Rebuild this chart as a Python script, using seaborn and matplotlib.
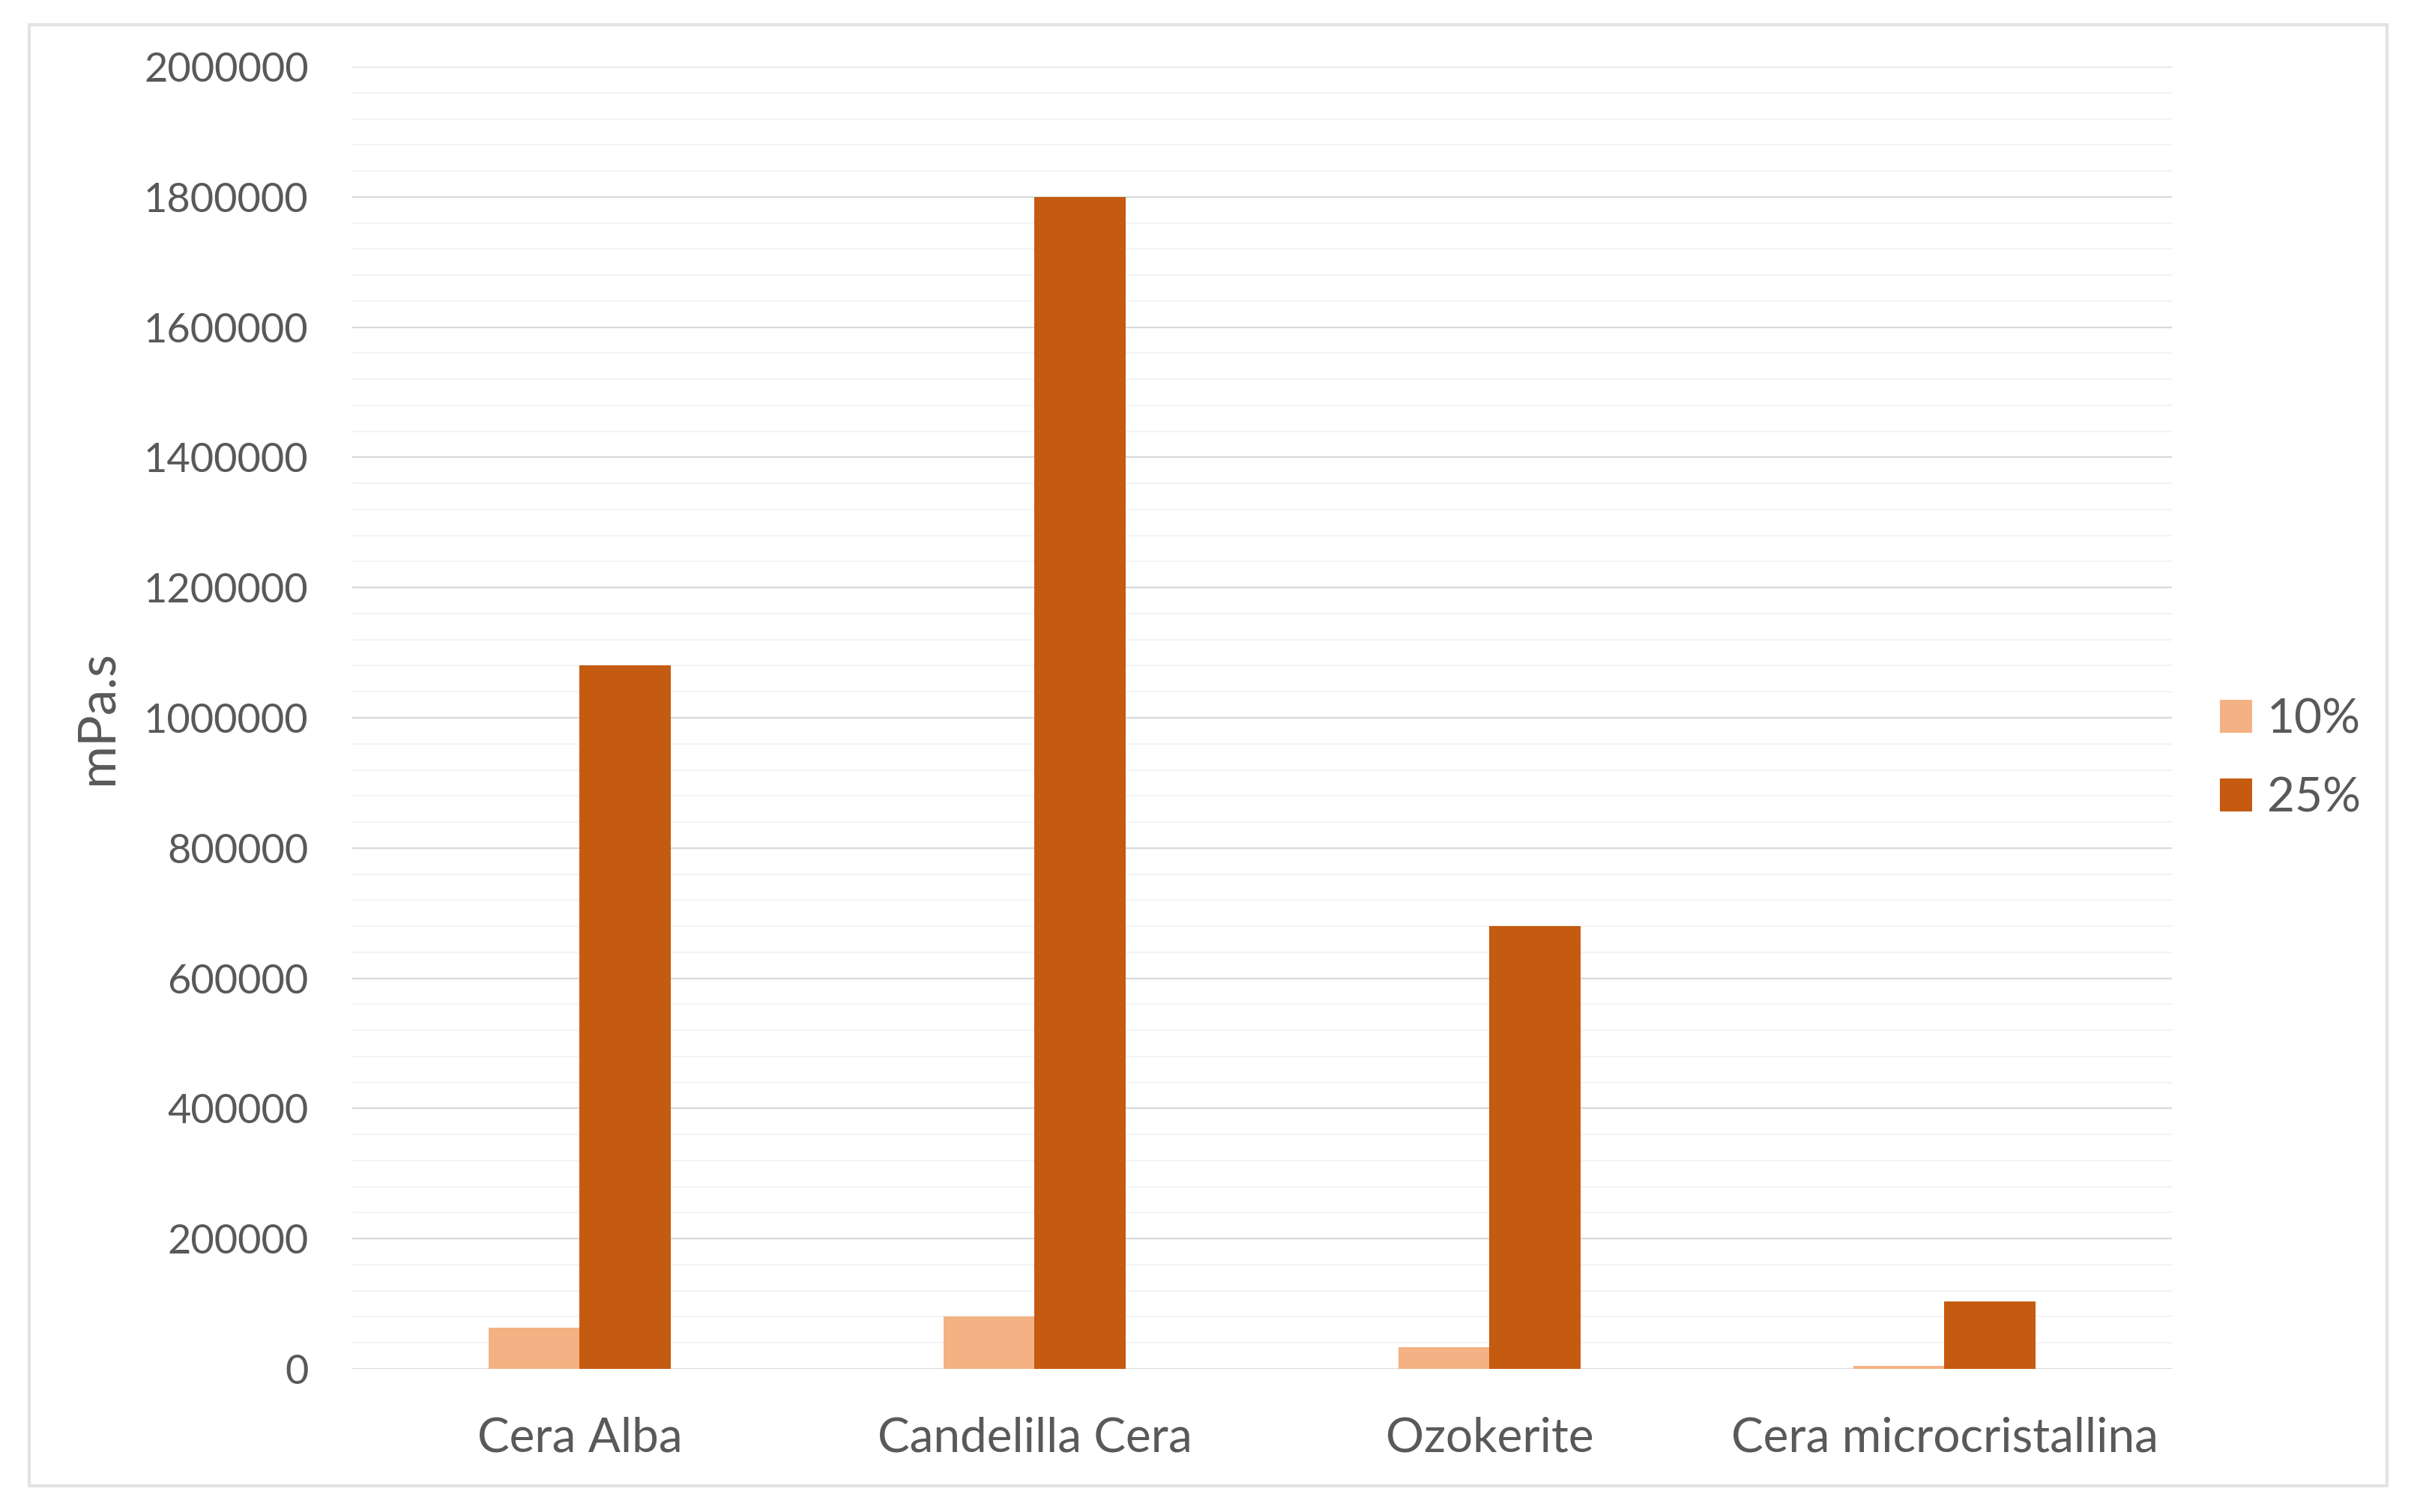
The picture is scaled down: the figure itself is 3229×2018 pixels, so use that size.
import pandas as pd
import seaborn as sns
import matplotlib.pyplot as plt
from matplotlib.patches import Rectangle
from matplotlib.ticker import MultipleLocator

# viscosity (mPa.s) of waxes at two concentrations
waxes = ['Cera Alba', 'Candelilla Cera', 'Ozokerite', 'Cera microcristallina']
concentrations = ['10%', '25%']
visc_10 = [63000, 80500, 33000, 5000]
visc_25 = [1080000, 1800000, 680000, 104000]
y_ticks = [0, 200000, 400000, 600000, 800000, 1000000,
           1200000, 1400000, 1600000, 1800000, 2000000]
colors = ['#F4B183', '#C55A11']

df = pd.DataFrame({
    'wax': waxes * 2,
    'conc': [concentrations[0]] * len(waxes) + [concentrations[1]] * len(waxes),
    'visc': visc_10 + visc_25,
})

sns.set_theme(style='white')
plt.rcParams['font.family'] = ['Lato', 'DejaVu Sans']
text_col = '#595959'

fig = plt.figure(figsize=(32.3, 20.18), dpi=100)
ax = fig.add_axes([470 / 3230, 1 - 1827 / 2018, (2898 - 470) / 3230, (1827 - 89) / 2018])

sns.barplot(data=df, x='wax', y='visc', hue='conc', order=waxes,
            hue_order=concentrations, palette=colors, saturation=1,
            width=0.4, linewidth=0, ax=ax, zorder=3)

ax.set_xlim(-0.5, len(waxes) - 0.5)
ax.set_ylim(y_ticks[0], y_ticks[-1])
ax.set_yticks(y_ticks)
ax.set_yticklabels([str(t) for t in y_ticks])
ax.yaxis.set_minor_locator(MultipleLocator(40000))
ax.grid(which='major', axis='y', color='#D9D9D9', linewidth=1.6, zorder=0)
ax.grid(which='minor', axis='y', color='#F2F2F2', linewidth=1.3, zorder=0)
ax.set_axisbelow(True)
for s in ax.spines.values():
    s.set_visible(False)

ax.tick_params(axis='y', which='both', length=0, pad=42, labelsize=39, labelcolor=text_col)
ax.tick_params(axis='x', which='both', length=0, pad=46, labelsize=46, labelcolor=text_col)
ax.set_xlabel('')
ax.set_ylabel('mPa.s', fontsize=50, color=text_col, labelpad=0)
ax.yaxis.set_label_coords(-0.127, 0.5)

ax.legend(loc='center left', bbox_to_anchor=(2930 / 3230, 1 - 1013 / 2018),
          bbox_transform=fig.transFigure, frameon=False, fontsize=46,
          labelcolor=text_col, handlelength=0.68, handleheight=0.68,
          handletextpad=0.3, labelspacing=0.74, borderpad=0, title=None)

# light outer frame
fig.patches.append(Rectangle((39 / 3230, 1 - 1983 / 2018), (3185 - 39) / 3230,
                             (1983 - 33) / 2018, transform=fig.transFigure,
                             fill=False, edgecolor='#E3E3E3', linewidth=3))

fig.savefig('out.png', dpi=100, facecolor='white')
